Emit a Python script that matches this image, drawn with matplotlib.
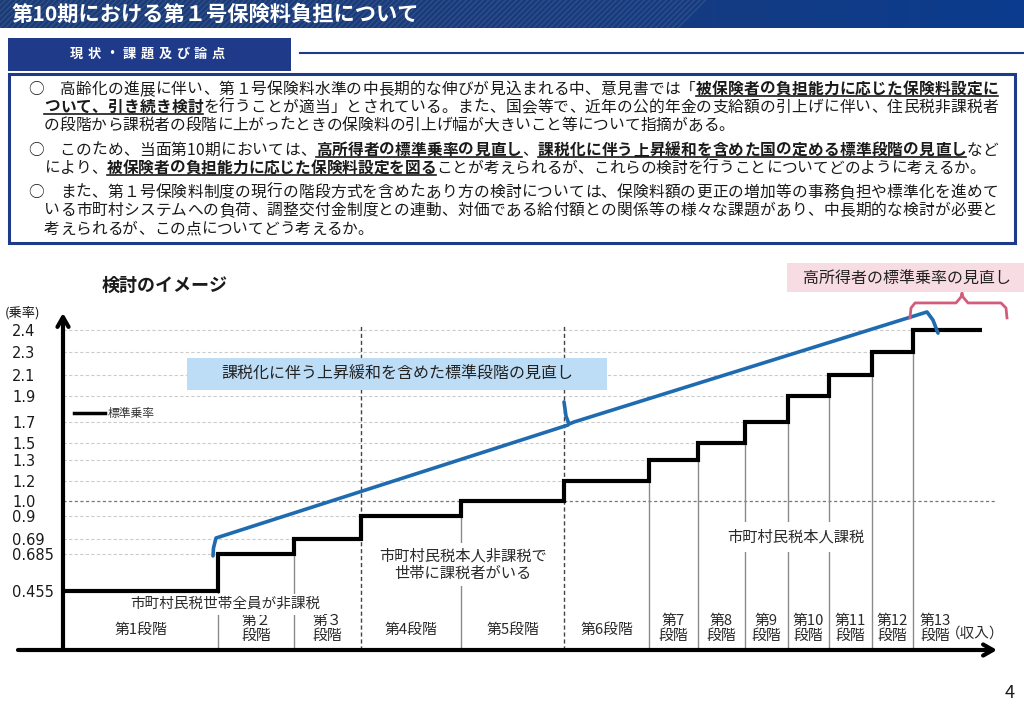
import numpy as np
import matplotlib
matplotlib.use("Agg")
import matplotlib.pyplot as plt
from matplotlib.patches import Rectangle, Polygon
from matplotlib.lines import Line2D
from matplotlib.transforms import blended_transform_factory
from matplotlib.colors import LinearSegmentedColormap
from matplotlib import font_manager as fm

plt.rcParams['font.family'] = ['Noto Sans CJK JP', 'DejaVu Sans']

# ---------------- data ----------------
stage_labels = ['第1段階', '第２\n段階', '第３\n段階', '第4段階', '第5段階', '第6段階',
                '第7\n段階', '第8\n段階', '第9\n段階', '第10\n段階', '第11\n段階',
                '第12\n段階', '第13\n段階']
# schematic income axis: stage boundaries
stage_edges = [0, 155, 231, 298, 398, 501, 586, 635, 682, 725, 766, 809, 850, 919]
standard_rates = [0.455, 0.685, 0.69, 0.9, 1.0, 1.2, 1.3, 1.5, 1.7, 1.9, 2.1, 2.3, 2.4]
rate_tick_labels = ['0.455', '0.685', '0.69', '0.9', '1.0', '1.2', '1.3', '1.5',
                    '1.7', '1.9', '2.1', '2.3', '2.4']
group_labels = ['市町村民税世帯全員が非課税', '市町村民税本人非課税で\n世帯に課税者がいる',
                '市町村民税本人課税']

title_text = '第10期における第１号保険料負担について'
heading_text = '現状・課題及び論点'
chart_title = '検討のイメージ'
legend_label = '標準乗率'
y_unit = '(乗率)'
x_unit = '（収入）'
blue_box_text = '課税化に伴う上昇緩和を含めた標準段階の見直し'
pink_box_text = '高所得者の標準乗率の見直し'
page_no = '4'

# paragraph lines: (runs, indent, justified)  run = (text, bold/underlined)
para_lines = [
    ([('○　高齢化の進展に伴い、第１号保険料水準の中長期的な伸びが見込まれる中、意見書では「', False),
      ('被保険者の負担能力に応じた保険料設定に', True)], 0, True),
    ([('ついて、引き続き検討', True),
      ('を行うことが適当」とされている。また、国会等で、近年の公的年金の支給額の引上げに伴い、住民税非課税者', False)], 1, True),
    ([('の段階から課税者の段階に上がったときの保険料の引上げ幅が大きいこと等について指摘がある。', False)], 1, False),
    ([('○　このため、当面第10期においては、', False), ('高所得者の標準乗率の見直し', True), ('、', False),
      ('課税化に伴う上昇緩和を含めた国の定める標準段階の見直し', True), ('など', False)], 0, True),
    ([('により、', False), ('被保険者の負担能力に応じた保険料設定を図る', True),
      ('ことが考えられるが、これらの検討を行うことについてどのように考えるか。', False)], 1, False),
    ([('○　また、第１号保険料制度の現行の階段方式を含めたあり方の検討については、保険料額の更正の増加等の事務負担や標準化を進めて', False)], 0, True),
    ([('いる市町村システムへの負荷、調整交付金制度との連動、対価である給付額との関係等の様々な課題があり、中長期的な検討が必要と', False)], 1, True),
    ([('考えられるが、この点についてどう考えるか。', False)], 1, False),
]

# ---------------- layout ----------------
W, H = 1024, 707
NAVY = '#1f3a88'
TXT = '#1a1a1a'
BLUE = '#1f6bb0'
PINK = '#d35c7c'

fig = plt.figure(figsize=(W / 100, H / 100), dpi=100)
fig.patch.set_facecolor('white')


def fx(x):
    return x / W


def fy(y):
    return 1 - y / H


# advance widths for justified text
try:
    from matplotlib.ft2font import FT2Font
    _fonts = {}

    def _ft(bold):
        if bold not in _fonts:
            p = fm.findfont(fm.FontProperties(family='Noto Sans CJK JP',
                                              weight='bold' if bold else 'normal'))
            _fonts[bold] = FT2Font(p)
        return _fonts[bold]

    def advance(c, bold, fs):
        f = _ft(bold)
        f.set_size(fs, 100)
        g = f.load_char(ord(c))
        return g.linearHoriAdvance / 65536.0

    advance('あ', False, 10)
except Exception:
    def advance(c, bold, fs):
        em = fs * 100 / 72
        return em * (0.55 if ord(c) < 128 else 1.0)


def draw_line(runs, x0, yc, fs, right=None):
    chars = [(c, b) for t, b in runs for c in t]
    advs = [advance(c, b, fs) for c, b in chars]
    gap = 0.0
    if right is not None and len(chars) > 1:
        gap = (right - x0 - sum(advs)) / (len(chars) - 1)
    em = fs * 100 / 72
    base = yc + 0.37 * em
    x = x0
    i = 0
    for t, b in runs:
        xs = x
        for c in t:
            fig.text(fx(x), fy(base), c, fontsize=fs, fontweight='bold' if b else 'normal',
                     ha='left', va='baseline', color=TXT, zorder=6)
            x += advs[i] + gap
            i += 1
        if b:
            xe = x - gap
            fig.add_artist(Line2D([fx(xs), fx(xe)], [fy(base + 2.6)] * 2, color=TXT, lw=1.2, zorder=6))


# ---- title bar ----
tax = fig.add_axes([0, fy(28), 1, 28 / H])
tax.set_axis_off()
grad = np.linspace(0, 1, 256)
cm = LinearSegmentedColormap.from_list('t', ['#1c3b74', '#1a3b7c', '#0b3b8e'])
tax.imshow(grad[None, :], aspect='auto', cmap=cm, extent=[0, 1, 0, 1])
tax.add_patch(Polygon([[0, 0], [0.665, 0], [0.69, 1], [0, 1]], closed=True, fill=False,
                      hatch='//////', edgecolor='#2f4f8a', lw=0))
tax.set_xlim(0, 1)
tax.set_ylim(0, 1)
fig.text(fx(12), fy(14), title_text, fontsize=15.3, fontweight='bold', color='white',
         ha='left', va='center', zorder=10)

# ---- heading box ----
fig.add_artist(Rectangle((fx(8), fy(71)), fx(283), 33 / H, facecolor=NAVY, edgecolor='none', zorder=5))
for i, c in enumerate(heading_text):
    fig.text(fx(76 + i * 17.8), fy(54), c, fontsize=9.5, fontweight='bold', color='white',
             ha='center', va='center', zorder=6)
fig.add_artist(Line2D([fx(300), 1], [fy(53), fy(53)], color=NAVY, lw=1.5, zorder=5))

# ---- text box ----
fig.add_artist(Rectangle((fx(9), fy(243)), fx(1006), 169 / H, facecolor='white',
                         edgecolor=NAVY, lw=2.2, zorder=5))
line_y = [88, 106, 124, 149, 167, 191, 209, 228]
FS = 11.3
for (runs, indent, just), yc in zip(para_lines, line_y):
    x0 = 28 if indent == 0 else 44
    draw_line(runs, x0, yc, FS, right=998 if just else None)

# ---- chart ----
scale_vals = [-1.0, 0, 0.455, 0.685, 0.69, 0.9, 1.0, 1.2, 1.3, 1.5, 1.7, 1.9, 2.1, 2.3, 2.4, 2.6, 4.0]
scale_pos = [-130, 0, 59, 96, 111, 134, 149, 169, 190, 207, 228, 254, 275, 298, 320, 364, 672]


def fwd(v):
    return np.interp(v, scale_vals, scale_pos)


def inv(d):
    return np.interp(d, scale_pos, scale_vals)


ax = fig.add_axes([fx(18), fy(650), 982 / W, 360 / H])
ax.set_yscale('function', functions=(fwd, inv))
ax.set_xlim(-45, 937)
ax.set_ylim(0, float(inv(360)))
for s in ax.spines.values():
    s.set_visible(False)
ax.set_xticks([])
ax.set_yticks(standard_rates, rate_tick_labels)
ax.tick_params(axis='y', length=0, pad=4.3, labelsize=10.5, labelcolor=TXT,
               labelfontfamily='DejaVu Sans')
for lbl in ax.get_yticklabels():
    lbl.set_ha('left')
ax.patch.set_alpha(0)

e = stage_edges
r = standard_rates
# grid lines up to the stage where each rate starts
for i, v in enumerate(r):
    if i == 0:
        continue
    if v == 1.0:
        ax.plot([0, 932], [v, v], color='#777777', lw=0.9, ls=(0, (2.5, 2)), zorder=1)
    else:
        ax.plot([0, e[i]], [v, v], color='#cccccc', lw=0.8, ls=(0, (3, 2)), zorder=1)

# stage dividers
for i in range(1, 13):
    if i in (3, 5):
        ax.plot([e[i], e[i]], [0, 2.42], color='#444444', lw=1.0, ls=(0, (3, 2)), zorder=1)
    else:
        ax.plot([e[i], e[i]], [0, r[i - 1]], color='#8a8a8a', lw=1.0, zorder=1)

# standard rate steps
ax.stairs(r, e, baseline=None, color='black', lw=3, zorder=4)

# axes arrows
ax.annotate('', xy=(0, float(inv(337))), xytext=(0, 0), annotation_clip=False,
            arrowprops=dict(arrowstyle='->,head_length=0.7,head_width=0.4', lw=3,
                            color='black', shrinkA=0, shrinkB=0), zorder=5)
ax.annotate('', xy=(934, 0), xytext=(-45, 0), annotation_clip=False,
            arrowprops=dict(arrowstyle='->,head_length=0.7,head_width=0.4', lw=3,
                            color='black', shrinkA=0, shrinkB=0), zorder=5)

# stage labels
trb = blended_transform_factory(ax.transData, fig.transFigure)
for i, lab in enumerate(stage_labels):
    cx = (e[i] + e[i + 1]) / 2
    if i == 12:
        cx = e[i] + 22
    yy = 628.5 if '\n' in lab else 630
    ax.text(cx, fy(yy), lab, transform=trb, fontsize=10.7, color='#2a2a2a',
            ha='center', va='center', linespacing=1.0, zorder=6)
ax.text(912, fy(634), x_unit, transform=trb, fontsize=10.5, color='#2a2a2a',
        ha='center', va='center', zorder=6)

# group labels
ax.text(162, fy(604), group_labels[0], transform=trb, fontsize=10.5, color='#2a2a2a',
        ha='center', va='center', bbox=dict(facecolor='white', edgecolor='none', pad=2.5), zorder=6)
ax.text(400, fy(564.5), group_labels[1], transform=trb, fontsize=11, color='#2a2a2a',
        ha='center', va='center', linespacing=1.05,
        bbox=dict(facecolor='white', edgecolor='none', pad=3), zorder=6)
ax.text(733, fy(537), group_labels[2], transform=trb, fontsize=11, color='#2a2a2a',
        ha='center', va='center', bbox=dict(facecolor='white', edgecolor='none', pad=4.5), zorder=6)

# blue braces (review of standard stages)
ax.plot([e[1] - 5, e[1] - 4.5, e[1] - 2, e[5] + 4],
        [0.673, 0.687, 0.699, 1.671], color=BLUE, lw=2.6, zorder=5,
        solid_joinstyle='round', solid_capstyle='round', clip_on=False)
ax.plot([e[5], e[5] + 2, e[5] + 5, e[5] + 10, e[12] + 14, e[12] + 20, e[12] + 25],
        [1.854, 1.746, 1.681, 1.70, 2.482, 2.445, 2.386], color=BLUE, lw=2.6, zorder=5,
        solid_joinstyle='round', solid_capstyle='round', clip_on=False)

# pink brace (high income)
px_ = [e[12] - 3, e[12] - 2, e[12] + 2, e[12] + 43, e[12] + 48, e[12] + 49,
       e[12] + 50, e[12] + 55, e[12] + 88, e[12] + 93, e[12] + 94]
py_ = [2.455, 2.50, 2.523, 2.523, 2.55, 2.568, 2.55, 2.523, 2.523, 2.50, 2.455]
ax.plot(px_, py_, color=PINK, lw=2.0, zorder=5, solid_joinstyle='round', clip_on=False)

# annotation boxes
fig.add_artist(Rectangle((fx(187), fy(390)), fx(420), 32 / H, facecolor='#bddcf6',
                         edgecolor='none', zorder=5))
fig.text(fx(397), fy(374), blue_box_text, fontsize=11.5, color='#222222', ha='center',
         va='center', zorder=6)
fig.add_artist(Rectangle((fx(787), fy(292)), fx(237), 29 / H, facecolor='#f7dce3',
                         edgecolor='none', zorder=5))
fig.text(fx(907), fy(278), pink_box_text, fontsize=11.5, color='#222222', ha='center',
         va='center', zorder=6)

# chart title, legend, units
fig.text(fx(102), fy(285), chart_title, fontsize=13, fontweight='bold', color=TXT,
         ha='left', va='center', zorder=6)
fig.add_artist(Line2D([fx(74), fx(105)], [fy(413), fy(413)], color='black', lw=2.5, zorder=6))
fig.text(fx(108), fy(413), legend_label, fontsize=8.5, color='#333333', ha='left',
         va='center', zorder=6)
fig.text(fx(5), fy(313), y_unit, fontsize=9.5, color=TXT, ha='left', va='center', zorder=6)
fig.text(fx(1010), fy(693), page_no, fontsize=13, color=TXT, ha='center', va='center', zorder=6)

fig.savefig('out.png', dpi=100)
